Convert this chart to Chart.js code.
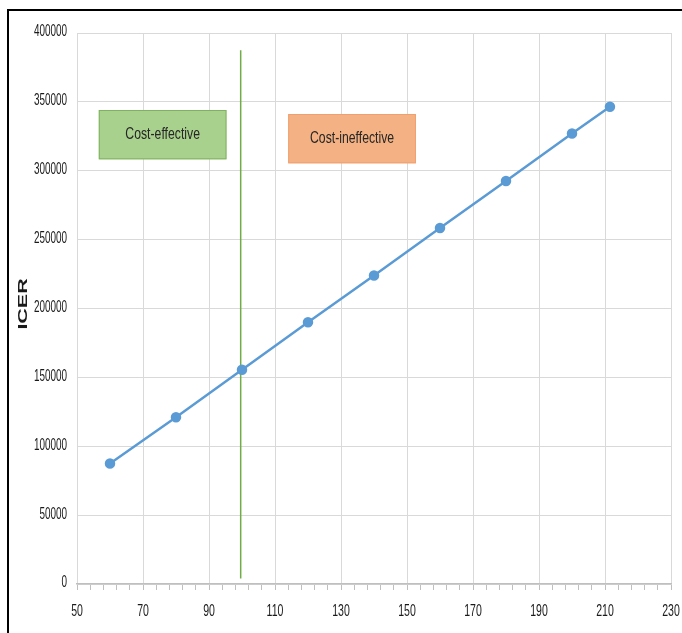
<!DOCTYPE html>
<html>
<head>
<meta charset="utf-8">
<script src="https://cdn.jsdelivr.net/npm/chart.js@4.4.1/dist/chart.umd.min.js"></script>
<style>
  body { margin: 0; background: #fff; }
  #wrap { position: relative; width: 682px; height: 633px; }
  #frame { position: absolute; left: 7px; top: 9px; right: 0; bottom: 0;
           border-top: 2px solid #000; border-left: 2px solid #000; pointer-events: none; }
</style>
</head>
<body>
<div id="wrap">
  <canvas id="icerChart" width="682" height="633"></canvas>
  <div id="frame"></div>
</div>
<script>
// price values (x) and ICER (y)
const prices = [60, 80, 100, 120, 140, 160, 180, 200, 211.5];
const icerValues = [87500, 121000, 155500, 190000, 224000, 258500, 292500, 327000, 346500];

// threshold line
const thresholdX = [99.6, 99.6];
const thresholdY = [4000, 387500];

// label boxes, in data units: [xMin, xMax, yMin, yMax]
const boxLabels = ["Cost-effective", "Cost-ineffective"];
const boxRanges = [[56.6, 95.3, 308300, 344100], [114.0, 152.7, 305400, 341200]];
const boxFills = ["#a9d18e", "#f4b183"];
const boxBorders = ["#7fb25e", "#f0a070"];

const yTitle = "ICER";

const baseFont = "'Liberation Sans', Arial, sans-serif";

// draws text squeezed sideways, like the condensed font of the original
function narrowText(ctx, text, x, y, align, size, squeeze, color) {
  ctx.save();
  ctx.translate(x, y);
  ctx.scale(squeeze, 1);
  ctx.fillStyle = color;
  ctx.font = size + "px " + baseFont;
  ctx.textAlign = align;
  ctx.textBaseline = "middle";
  ctx.fillText(text, 0, 0);
  ctx.restore();
}

//Draws tick labels, the label boxes and the rotated axis title
const extrasPlugin = {
  id: "extras",
  afterDatasetsDraw(chart) {
    const ctx = chart.ctx;
    const xs = chart.scales.x, ys = chart.scales.y;

    for (const t of xs.ticks) {
      if ((t.value - 50) % 20 !== 0) continue;
      narrowText(ctx, String(t.value), xs.getPixelForValue(t.value), 611, "center", 17, 0.62, "#1a1a1a");
    }
    for (const t of ys.ticks) {
      narrowText(ctx, String(t.value), 67, ys.getPixelForValue(t.value) - 1, "right", 16, 0.62, "#1a1a1a");
    }

    for (let i = 0; i < boxLabels.length; i++) {
      const r = boxRanges[i];
      const left = xs.getPixelForValue(r[0]), right = xs.getPixelForValue(r[1]);
      const top = ys.getPixelForValue(r[3]), bottom = ys.getPixelForValue(r[2]);
      ctx.save();
      ctx.fillStyle = boxFills[i];
      ctx.fillRect(left, top, right - left, bottom - top);
      ctx.strokeStyle = boxBorders[i];
      ctx.lineWidth = 1;
      ctx.strokeRect(left + 0.5, top + 0.5, right - left - 1, bottom - top - 1);
      ctx.restore();
      narrowText(ctx, boxLabels[i], (left + right) / 2, (top + bottom) / 2, "center", 17, 0.72, "#262626");
    }

    ctx.save();
    ctx.translate(23, 304);
    ctx.rotate(-Math.PI / 2);
    ctx.scale(1.65, 1);
    ctx.fillStyle = "#1a1a1a";
    ctx.font = "bold 13px " + baseFont;
    ctx.textAlign = "center";
    ctx.textBaseline = "middle";
    ctx.fillText(yTitle, 0, 0);
    ctx.restore();
  }
};

const icerPoints = prices.map((p, i) => ({ x: p, y: icerValues[i] }));
const thresholdPoints = thresholdX.map((p, i) => ({ x: p, y: thresholdY[i] }));

new Chart(document.getElementById("icerChart"), {
  type: "scatter",
  data: {
    datasets: [{
      data: thresholdPoints,
      showLine: true,
      borderColor: "#70ad47",
      borderWidth: 1.5,
      pointRadius: 0,
      order: 2
    }, {
      data: icerPoints,
      showLine: true,
      borderColor: "#5b9bd5",
      backgroundColor: "#5b9bd5",
      borderWidth: 2.5,
      pointRadius: 4,
      pointHoverRadius: 4,
      order: 1
    }]
  },
  options: {
    responsive: false,
    animation: false,
    layout: { padding: { top: 33, right: 11, left: 0, bottom: 0 } },
    plugins: {
      legend: { display: false },
      tooltip: { enabled: false }
    },
    scales: {
      x: {
        type: "linear",
        min: 50,
        max: 230,
        afterFit: (scale) => { scale.height = 49; },
        afterBuildTicks: (scale) => {
          const t = [];
          for (let v = 50; v <= 230; v += 4) t.push({ value: v });
          scale.ticks = t;
        },
        border: { display: true, color: "#bfbfbf", width: 1.5 },
        grid: {
          color: (c) => (c.tick && (c.tick.value - 50) % 20 === 0) ? "#d9d9d9" : "rgba(0,0,0,0)",
          tickColor: "#bfbfbf",
          tickLength: 6,
          drawTicks: true
        },
        ticks: { display: false, autoSkip: false, maxRotation: 0 }
      },
      y: {
        min: 0,
        max: 400000,
        afterFit: (scale) => { scale.width = 77; },
        border: { display: false },
        grid: { color: "#d9d9d9", drawTicks: false },
        ticks: { display: false, stepSize: 50000 }
      }
    }
  },
  plugins: [extrasPlugin]
});
</script>
</body>
</html>
